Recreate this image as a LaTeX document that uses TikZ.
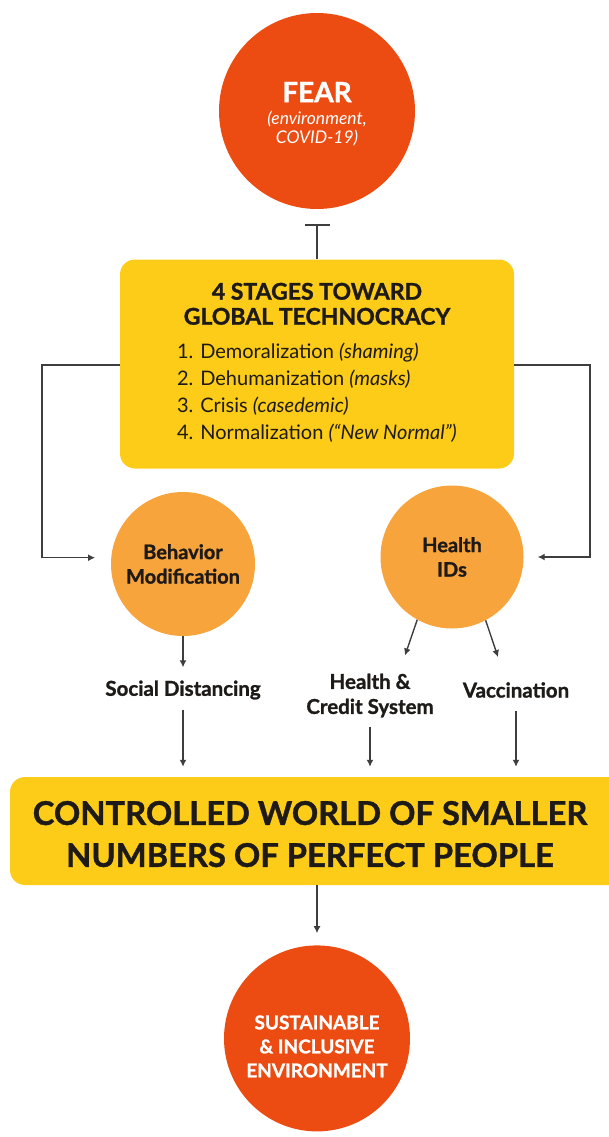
\documentclass[tikz,border=0pt]{standalone}
\usepackage{fontspec}
\setmainfont{Lato}[BoldFeatures={FakeBold=1.2}]
\usepackage{tikz}
\usetikzlibrary{shapes,arrows.meta,positioning}
\definecolor{fearred}{RGB}{236, 76, 18}
\definecolor{orange}{RGB}{247, 164, 60}
\definecolor{yellow}{RGB}{252, 204, 24}
\definecolor{ink}{RGB}{30, 26, 24}
\definecolor{wire}{RGB}{62, 62, 62}
\tikzstyle{redcirc} = [circle, fill=fearred, text=white, align=center, inner sep=0pt]
\tikzstyle{orcirc} = [circle, fill=orange, text=ink, align=center, inner sep=0pt, minimum size=144pt, font=\fontsize{20}{24.5}\selectfont\bfseries]
\tikzstyle{ybox} = [rectangle, rounded corners=15pt, fill=yellow, text=ink, align=center, inner sep=0pt]
\tikzstyle{txt} = [text=ink, align=center, inner sep=0pt, font=\fontsize{20.5}{25}\selectfont\bfseries]
\tikzstyle{tedge}  = [draw=wire, line width=1.4pt, >={Latex[length=7pt,width=7pt]}, ->]
\tikzstyle{bedge}  = [draw=wire, line width=1.4pt, -{Bar[width=25pt]}, shorten >=15pt]

\begin{document}
\begin{tikzpicture}[x=1pt, y=-1pt]
\useasboundingbox (0,0) rectangle (609,1137);

% circles and boxes =============================

% fear on top
\node[redcirc, minimum size=196pt, font=\fontsize{17.5}{19}\selectfont\itshape] (fear) at (317,111)
  {{\fontsize{28}{30}\selectfont\upshape\bfseries\rule{0pt}{26pt}FEAR}\\[3pt](environment,\\COVID-19)};

% the four stages
\node[ybox, minimum width=394pt, minimum height=209pt, font=\fontsize{20}{27}\selectfont] (stages) at (317,364)
  {\begin{tabular}{@{}l@{}}
   \multicolumn{1}{@{}c@{}}{\fontsize{23}{25}\selectfont\bfseries 4 STAGES TOWARD}\\[-2pt]
   \multicolumn{1}{@{}c@{}}{\fontsize{23}{25}\selectfont\bfseries GLOBAL TECHNOCRACY}\\[6.5pt]
   1. Demoralization \textit{(shaming)}\\
   2. Dehumanization \textit{(masks)}\\
   3. Crisis \textit{(casedemic)}\\
   4. Normalization \textit{(“New Normal”)}
   \end{tabular}};

% two branches
\node[orcirc] (behav) at (183,564) {Behavior\\Modification};
\node[orcirc, minimum size=143pt] (hids) at (452,557) {Health\\IDs};

% labels
\node[txt] (social) at (183,690) {Social Distancing};
\node[txt] (credit) at (370,695.5) {Health \&\\Credit System};
\node[txt] (vacc) at (516,690) {Vaccination};

% goal
\node[ybox, minimum width=614pt, minimum height=108pt, font=\fontsize{32.7}{42}\selectfont\bfseries] (world) at (317,831)
  {\hspace*{-14pt}\rule{0pt}{30pt}CONTROLLED WORLD OF SMALLER\\\hspace*{-14pt}NUMBERS OF PERFECT PEOPLE};
\node[redcirc, minimum size=186pt, below=60pt of world, font=\fontsize{19}{24}\selectfont\bfseries] (sust)
  {\rule{0pt}{30pt}SUSTAINABLE\\\& INCLUSIVE\\ENVIRONMENT};

\coordinate (lbend) at (42,365);
\coordinate (rbend) at (590,365);

%edges
\path[bedge] (stages) -- (fear);
\path[tedge, shorten >=16pt] (stages.west |- lbend) -- (lbend) |- (behav.175);
\path[tedge, shorten >=14pt] (stages.east |- rbend) -- (rbend) |- (hids.east);

\path[tedge, shorten >=13pt] (behav) -- (social);
\path[tedge] (hids.241) -- ([shift={(35,-18)}]credit.north);
\path[tedge] (hids.298) -- ([shift={(-18,-25)}]vacc.north);

\path[tedge, shorten <=10pt, shorten >=10pt] (social.south) -- (social.south |- world.north);
\path[tedge, shorten <=9pt, shorten >=10pt] (credit.south) -- (credit.south |- world.north);
\path[tedge, shorten <=13pt, shorten >=10pt] (vacc.south) -- (vacc.south |- world.north);

\path[tedge, shorten >=12pt] (world) -- (sust);

\end{tikzpicture}
\end{document}
